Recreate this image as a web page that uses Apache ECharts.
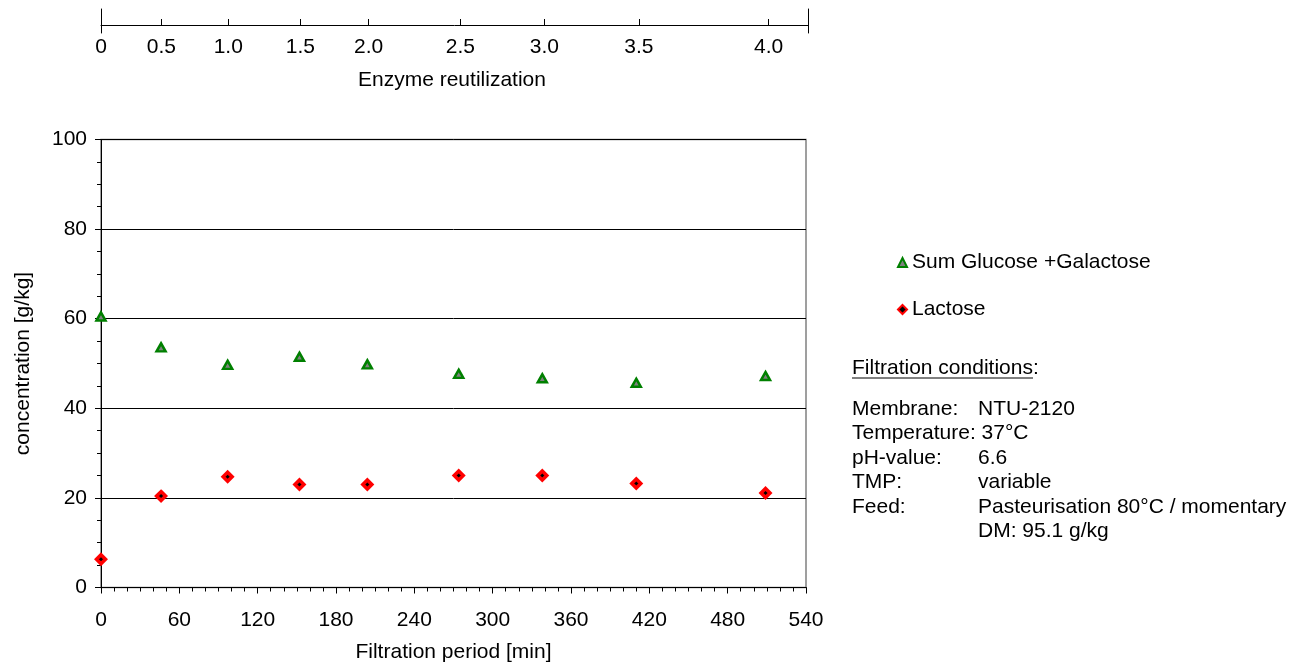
<!DOCTYPE html>
<html>
<head>
<meta charset="utf-8">
<title>Enzyme reutilization</title>
<script src="https://cdn.jsdelivr.net/npm/echarts@6/dist/echarts.min.js"></script>
<style>
  html, body { margin: 0; padding: 0; background: #fff; }
  #chart { width: 1309px; height: 669px; }
</style>
</head>
<body>
<div id="chart"></div>
<script>
// sampling times [min]
var times = [0, 46, 97, 152, 204, 274, 338, 410, 509];
// enzyme reutilization at those times (top axis)
var reuseLabels = ["0", "0.5", "1.0", "1.5", "2.0", "2.5", "3.0", "3.5", "4.0"];
// concentration [g/kg]
var sumGluGal = [60.5, 53.6, 49.7, 51.5, 49.8, 47.7, 46.7, 45.7, 47.2];
var lactose = [6.3, 20.4, 24.7, 23.0, 23.0, 25.0, 25.0, 23.2, 21.1];

var condLabels = ["Membrane:", "Temperature: 37°C", "pH-value:", "TMP:", "Feed:", ""];
var condValues = ["NTU-2120", "", "6.6", "variable", "Pasteurisation 80°C / momentary", "DM: 95.1 g/kg"];

var FONT = "'Liberation Sans', Arial, sans-serif";
var FS = 21;

function pairs(xs, ys) {
  return xs.map(function (x, i) { return [x, ys[i]]; });
}

var chart = echarts.init(document.getElementById("chart"));

chart.setOption({
  animation: false,
  textStyle: { fontFamily: FONT, color: "#000" },
  title: {
    text: "Enzyme reutilization",
    left: 358,
    top: 70,
    padding: 0,
    textStyle: { fontFamily: FONT, fontSize: FS, fontWeight: "normal", color: "#000" }
  },
  legend: {
    orient: "vertical",
    left: 892,
    top: 247,
    itemWidth: 9,
    itemHeight: 9,
    itemGap: 26,
    textStyle: { fontFamily: FONT, fontSize: FS, color: "#000" },
    data: ["Sum Glucose +Galactose", "Lactose"]
  },
  grid: [
    { left: 101, right: 503, top: 139.5, bottom: 81.5, show: true, borderColor: "#808080", borderWidth: 1.5 },
    { left: 101, right: 501, top: 9, height: 24 }
  ],
  xAxis: [
    {
      type: "value", gridIndex: 0, min: 0, max: 540, interval: 60,
      name: "Filtration period [min]", nameLocation: "middle", nameGap: 54,
      nameTextStyle: { fontSize: FS, color: "#000" },
      axisLine: { lineStyle: { color: "#000" } },
      axisTick: { length: 6, lineStyle: { color: "#000" } },
      axisLabel: { fontSize: FS, color: "#000", margin: 22 },
      splitLine: { show: false }
    },
    {
      // minor ticks, pointing inwards
      type: "value", gridIndex: 0, min: 0, max: 540, interval: 10,
      axisLine: { show: false },
      axisTick: { inside: true, length: 4, lineStyle: { color: "#000" } },
      axisLabel: { show: false },
      splitLine: { show: false }
    },
    {
      // enzyme reutilization axis
      type: "value", gridIndex: 1, position: "top", offset: -16, min: 0, max: 539,
      axisLine: { lineStyle: { color: "#000" } },
      axisTick: { customValues: times, length: 6, lineStyle: { color: "#000" } },
      axisLabel: {
        customValues: times, inside: true, margin: 12, fontSize: FS, color: "#000",
        formatter: function (v) { return reuseLabels[times.indexOf(v)]; }
      },
      splitLine: { show: false }
    }
  ],
  yAxis: [
    {
      type: "value", gridIndex: 0, min: 0, max: 100, interval: 20,
      name: "concentration [g/kg]", nameLocation: "middle", nameGap: 67, nameRotate: 90,
      nameTextStyle: { fontSize: FS, color: "#000" },
      axisLine: { show: true, lineStyle: { color: "#000" } },
      axisTick: { show: true, length: 6, lineStyle: { color: "#000" } },
      axisLabel: { fontSize: FS, color: "#000", margin: 14 },
      splitLine: { lineStyle: { color: "#000", width: 1 } }
    },
    {
      type: "value", gridIndex: 0, min: 0, max: 100, interval: 5,
      axisLine: { show: false },
      axisTick: { show: true, inside: true, length: 4, lineStyle: { color: "#000" } },
      axisLabel: { show: false },
      splitLine: { show: false }
    },
    {
      type: "value", gridIndex: 1, position: "left",
      axisLine: { show: true, lineStyle: { color: "#000" } },
      axisTick: { show: false }, axisLabel: { show: false }, splitLine: { show: false }
    },
    {
      type: "value", gridIndex: 1, position: "right",
      axisLine: { show: true, lineStyle: { color: "#000" } },
      axisTick: { show: false }, axisLabel: { show: false }, splitLine: { show: false }
    }
  ],
  series: [
    {
      name: "Sum Glucose +Galactose",
      type: "scatter",
      xAxisIndex: 0, yAxisIndex: 0,
      symbol: "triangle",
      symbolSize: [9, 8],
      itemStyle: { color: "#808080", borderColor: "#008000", borderWidth: 2.5, opacity: 1 },
      data: pairs(times, sumGluGal)
    },
    {
      name: "Lactose",
      type: "scatter",
      xAxisIndex: 0, yAxisIndex: 0,
      symbol: "diamond",
      symbolSize: 9,
      itemStyle: { color: "#000", borderColor: "#ff0000", borderWidth: 3.5, opacity: 1 },
      data: pairs(times, lactose)
    }
  ],
  graphic: [
    {
      type: "text", left: 852, top: 358,
      style: { text: "Filtration conditions:", fontSize: FS, fontFamily: FONT, fill: "#000" }
    },
    {
      type: "line",
      shape: { x1: 852, y1: 378, x2: 1033, y2: 378 },
      style: { stroke: "#000", lineWidth: 1 }
    },
    {
      type: "text", left: 852, top: 397,
      style: { text: condLabels.join("\n"), fontSize: FS, fontFamily: FONT, lineHeight: 24.4, fill: "#000" }
    },
    {
      type: "text", left: 978, top: 397,
      style: { text: condValues.join("\n"), fontSize: FS, fontFamily: FONT, lineHeight: 24.4, fill: "#000" }
    }
  ]
});
</script>
</body>
</html>
